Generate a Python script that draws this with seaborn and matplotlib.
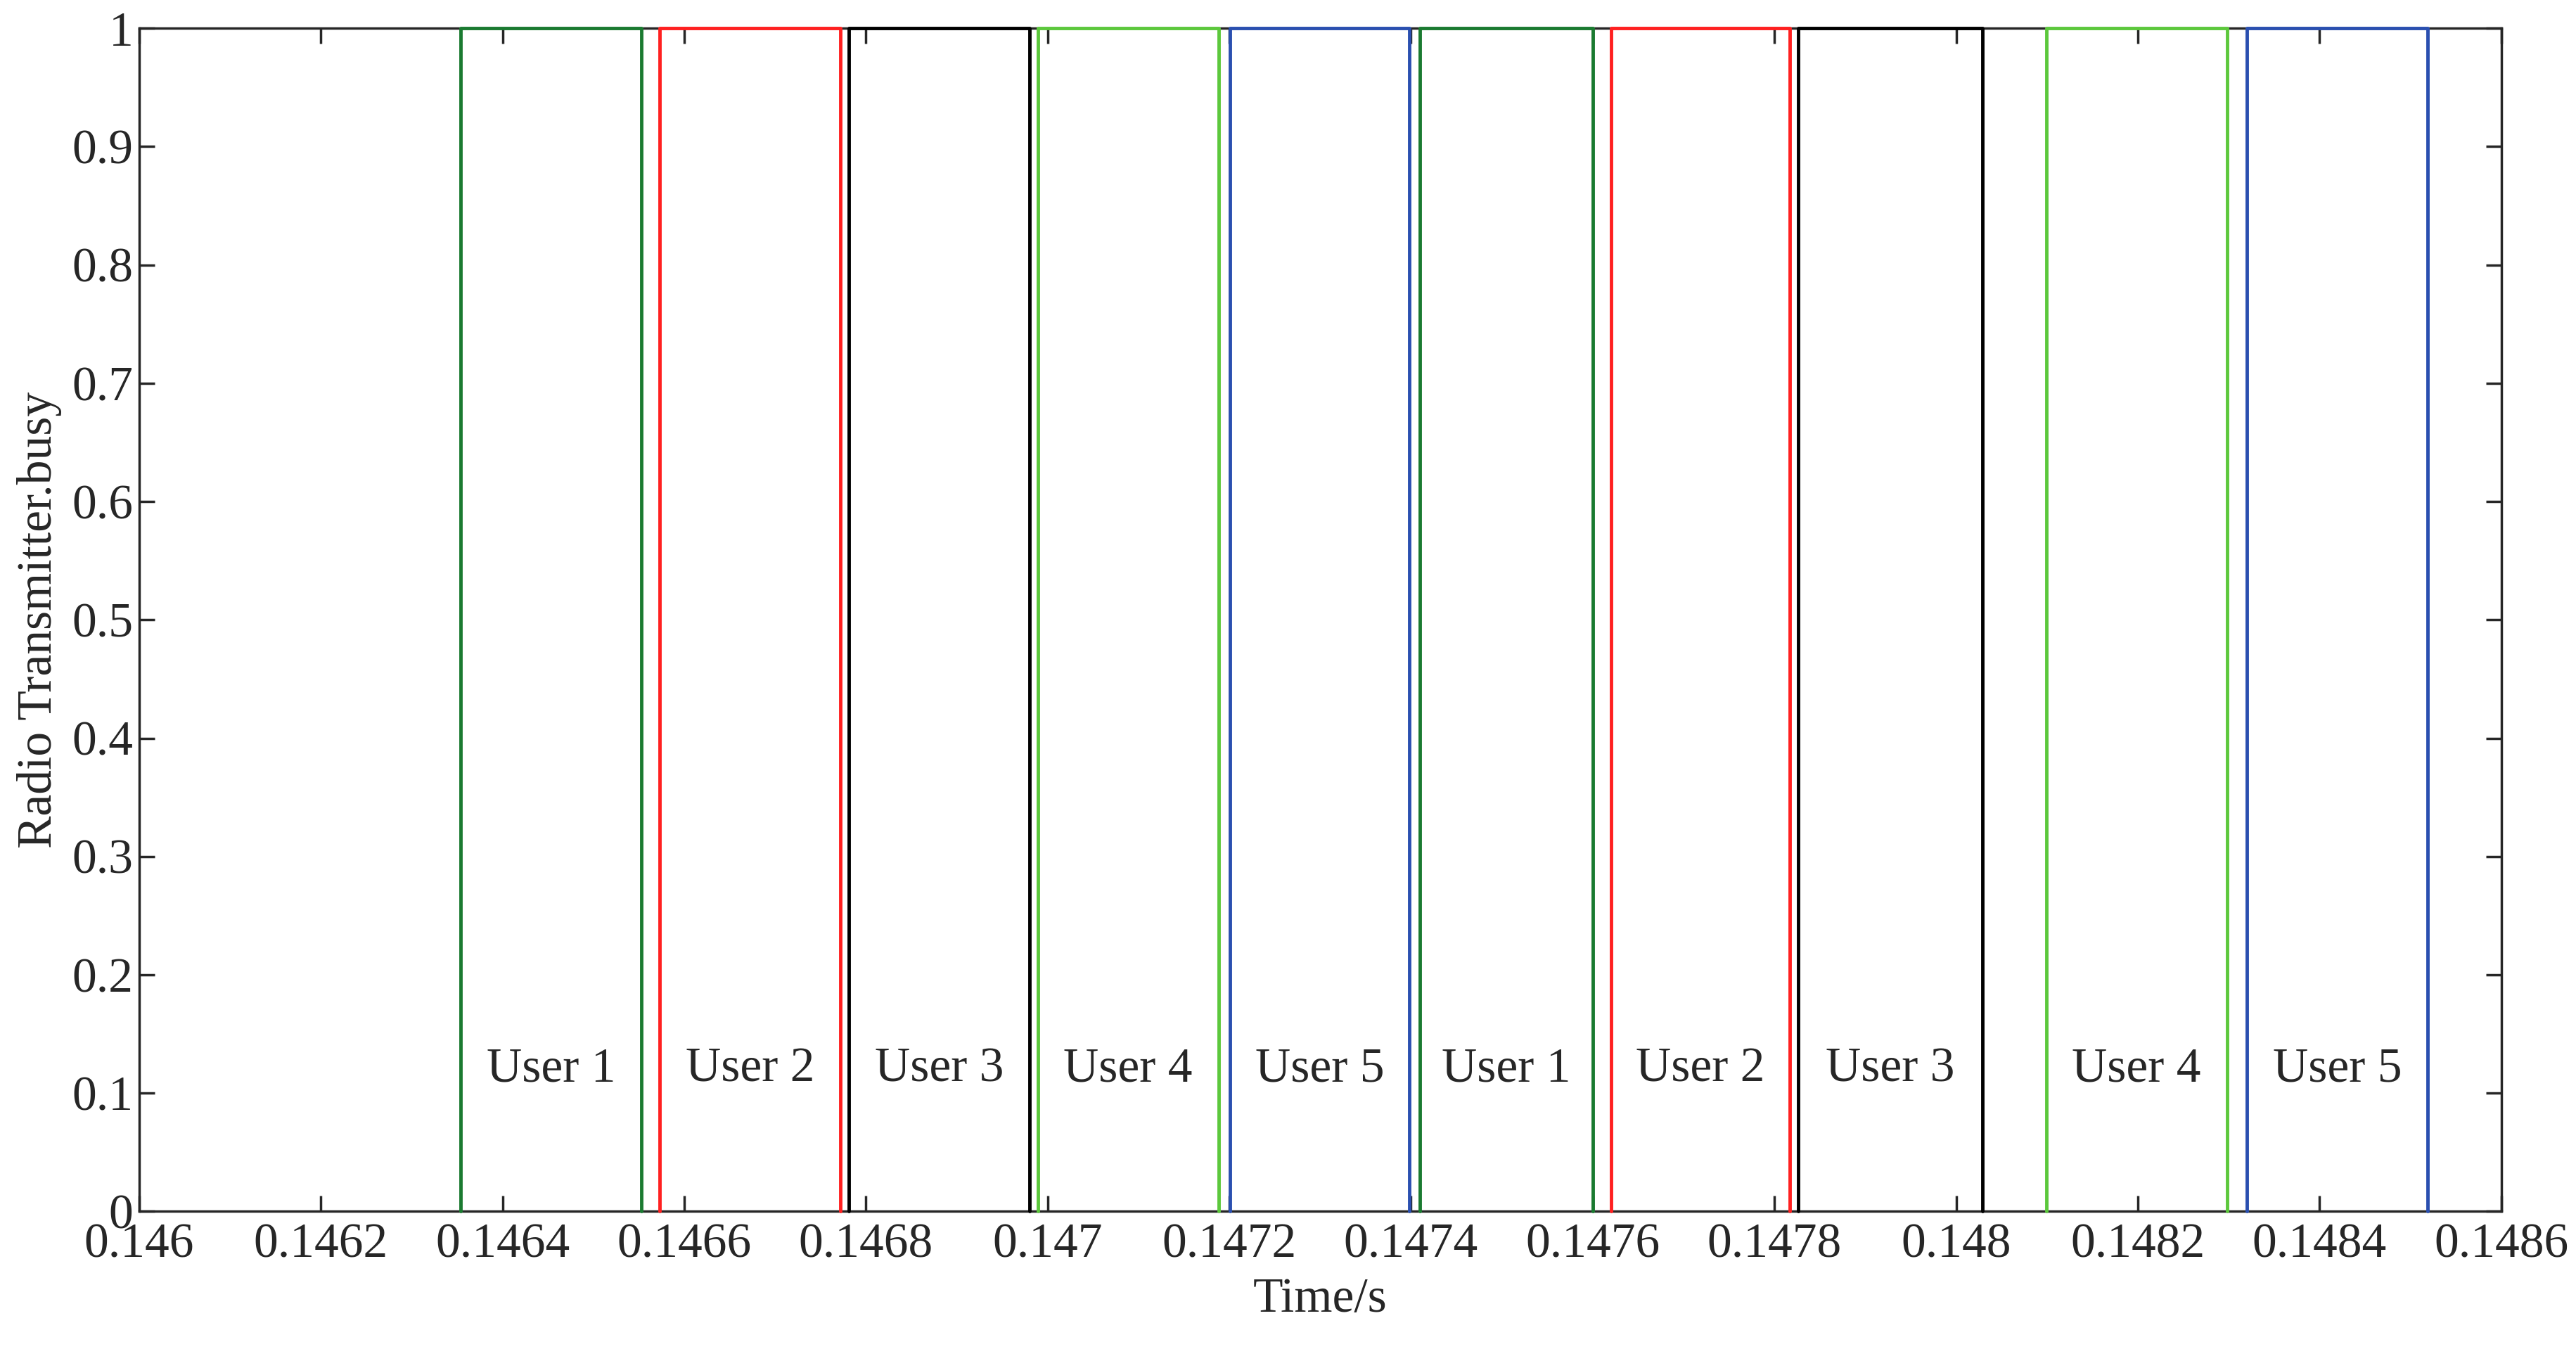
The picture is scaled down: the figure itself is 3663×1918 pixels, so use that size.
import matplotlib.pyplot as plt
import seaborn as sns

# pulse start/end times (s) and labels
starts = [0.146354, 0.146573, 0.146781, 0.146989, 0.147201,
          0.147410, 0.147620, 0.147826, 0.148099, 0.148320]
ends = [0.146553, 0.146772, 0.146980, 0.147188, 0.147398,
        0.147600, 0.147817, 0.148029, 0.148298, 0.148519]
users = ['User 1', 'User 2', 'User 3', 'User 4', 'User 5'] * 2
colors = ['#1a7a30', '#ff2020', '#000000', '#5cc83c', '#2a4fb0'] * 2

xticks = [0.146, 0.1462, 0.1464, 0.1466, 0.1468, 0.147, 0.1472,
          0.1474, 0.1476, 0.1478, 0.148, 0.1482, 0.1484, 0.1486]
xlabels = ['0.146', '0.1462', '0.1464', '0.1466', '0.1468', '0.147', '0.1472',
           '0.1474', '0.1476', '0.1478', '0.148', '0.1482', '0.1484', '0.1486']
yticks = [0, 0.1, 0.2, 0.3, 0.4, 0.5, 0.6, 0.7, 0.8, 0.9, 1]
ylabels = ['0', '0.1', '0.2', '0.3', '0.4', '0.5', '0.6', '0.7', '0.8', '0.9', '1']

sns.set_style('ticks')
plt.rcParams['font.family'] = ['Liberation Serif', 'DejaVu Serif']

fig = plt.figure(figsize=(36.63, 19.18), dpi=100)
ax = fig.add_axes([0.054, 0.102, 0.917, 0.877])

for s, e, u, c in zip(starts, ends, users, colors):
    ax.plot([s, s, e, e], [0, 1, 1, 0], color=c, linewidth=3.5,
            clip_on=False, zorder=5)
    ax.text((s + e) / 2, 0.12, u, ha='center', va='center', fontsize=50)

ax.set_xlim(0.146, 0.1486)
ax.set_ylim(0, 1)
ax.set_xticks(xticks)
ax.set_xticklabels(xlabels)
ax.set_yticks(yticks)
ax.set_yticklabels(ylabels)
ax.tick_params(direction='in', length=16, width=2.5, labelsize=50,
               top=True, right=True, pad=12)
ax.tick_params(axis='y', pad=6)
for sp in ax.spines.values():
    sp.set_linewidth(2.5)
ax.set_xlabel('Time/s', fontsize=50, labelpad=10)
ax.set_ylabel('Radio Transmitter.busy', fontsize=50, labelpad=10)

fig.savefig('out.png', dpi=100)
